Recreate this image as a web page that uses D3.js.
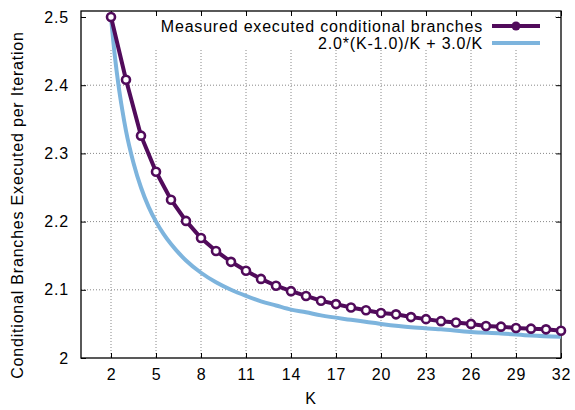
<!DOCTYPE html>
<html>
<head>
  <meta charset="utf-8">
  <script src="https://cdn.jsdelivr.net/npm/d3@7"></script>
  <style>
    body { margin: 0; background: #fff; }
    svg text { font-family: "Liberation Sans", Arial, sans-serif; fill: #000; letter-spacing: 0.8px; }
  </style>
</head>
<body>
  <div id="chart"></div>
  <script>
    // measured points, K = 2..32
    var measuredK = [2, 3, 4, 5, 6, 7, 8, 9, 10, 11, 12, 13, 14, 15, 16, 17,
      18, 19, 20, 21, 22, 23, 24, 25, 26, 27, 28, 29, 30, 31, 32]
    var measuredY = [2.500, 2.408, 2.326, 2.273, 2.232, 2.201, 2.176, 2.157,
      2.141, 2.128, 2.116, 2.106, 2.098, 2.091, 2.084, 2.079, 2.074, 2.070,
      2.066, 2.064, 2.060, 2.057, 2.054, 2.052, 2.050, 2.047, 2.046, 2.044,
      2.043, 2.042, 2.040]

    // model curve samples
    var modelK = [2, 2.25, 2.5, 2.75, 3, 3.5, 4, 4.5, 5, 5.5, 6, 7, 8, 9, 10,
      11, 12, 13, 14, 15, 16, 18, 20, 22, 24, 26, 28, 30, 32]
    var modelY = [2.5, 2.444, 2.4, 2.364, 2.333, 2.286, 2.25, 2.222, 2.2, 2.182,
      2.167, 2.143, 2.125, 2.111, 2.1, 2.091, 2.083, 2.077, 2.071, 2.067,
      2.0625, 2.056, 2.05, 2.045, 2.042, 2.038, 2.036, 2.033, 2.031]

    var xTicks = [2, 5, 8, 11, 14, 17, 20, 23, 26, 29, 32]
    var yTicks = [2, 2.1, 2.2, 2.3, 2.4, 2.5]
    var seriesNames = ['Measured executed conditional branches', '2.0*(K-1.0)/K + 3.0/K']

    var purple = '#510b5b'
    var blue = '#7db4dd'

    var W = 575, H = 410
    var pL = 81, pR = 561, pT = 11, pB = 358
    var fs = 16

    var svg = d3.select('#chart').append('svg')
      .attr('width', W).attr('height', H)

    var x = d3.scaleLinear().domain([0, 32]).range([pL, pR])
    var y = d3.scaleLinear().domain([2, 2.5088]).range([pB, pT])

    // grid
    var grid = svg.append('g')
    grid.selectAll('.gx').data(xTicks.filter(d => d < 32)).enter().append('line')
      .attr('x1', d => x(d)).attr('x2', d => x(d))
      .attr('y1', pT).attr('y2', pB)
      .attr('stroke', '#888').attr('stroke-width', 1).attr('stroke-dasharray', '1,2')
    grid.selectAll('.gy').data(yTicks.filter(d => d > 2)).enter().append('line')
      .attr('x1', pL).attr('x2', pR)
      .attr('y1', d => y(d)).attr('y2', d => y(d))
      .attr('stroke', '#888').attr('stroke-width', 1).attr('stroke-dasharray', '1,2')

    // opaque key box hides the grid behind it
    svg.append('rect')
      .attr('x', pL + 1).attr('y', pT + 1)
      .attr('width', 553 - pL - 1).attr('height', 50 - pT - 1)
      .attr('fill', '#fff')

    // axes with inward ticks on all four sides
    var tk = 5
    svg.append('g').attr('transform', 'translate(0,' + pB + ')')
      .call(d3.axisBottom(x).tickValues(xTicks).tickSizeInner(-tk).tickSizeOuter(0).tickPadding(11))
    svg.append('g').attr('transform', 'translate(0,' + pT + ')')
      .call(d3.axisTop(x).tickValues(xTicks).tickSizeInner(-tk).tickSizeOuter(0).tickFormat(''))
    svg.append('g').attr('transform', 'translate(' + pL + ',0)')
      .call(d3.axisLeft(y).tickValues(yTicks).tickSizeInner(-tk).tickSizeOuter(0).tickPadding(12).tickFormat(d3.format('')))
    svg.append('g').attr('transform', 'translate(' + pR + ',0)')
      .call(d3.axisRight(y).tickValues(yTicks).tickSizeInner(-tk).tickSizeOuter(0).tickFormat(''))
    svg.selectAll('.domain').remove()
    svg.selectAll('.tick line').attr('stroke', '#000')
    svg.selectAll('.tick text').attr('font-size', fs).attr('font-family', '"Liberation Sans", Arial, sans-serif')

    svg.append('rect')
      .attr('x', pL).attr('y', pT)
      .attr('width', pR - pL).attr('height', pB - pT)
      .attr('fill', 'none').attr('stroke', '#000').attr('stroke-width', 1.3)

    // series
    var modelData = modelK.map((k, i) => [k, modelY[i]])
    var measData = measuredK.map((k, i) => [k, measuredY[i]])

    svg.append('path').datum(modelData)
      .attr('d', d3.line().x(d => x(d[0])).y(d => y(d[1])).curve(d3.curveMonotoneX))
      .attr('fill', 'none').attr('stroke', blue).attr('stroke-width', 4)

    svg.append('path').datum(measData)
      .attr('d', d3.line().x(d => x(d[0])).y(d => y(d[1])))
      .attr('fill', 'none').attr('stroke', purple).attr('stroke-width', 4)

    svg.selectAll('.pt').data(measData).enter().append('circle')
      .attr('cx', d => x(d[0])).attr('cy', d => y(d[1])).attr('r', 4)
      .attr('fill', '#fff').attr('stroke', purple).attr('stroke-width', 2.6)

    // legend
    var key = svg.append('g')
    key.append('text').attr('x', 483).attr('y', 26).attr('dy', '0.35em')
      .attr('text-anchor', 'end').attr('font-size', fs).text(seriesNames[0])
    key.append('line').attr('x1', 492).attr('x2', 540).attr('y1', 26).attr('y2', 26)
      .attr('stroke', purple).attr('stroke-width', 4)
    key.append('circle').attr('cx', 516).attr('cy', 26).attr('r', 4.5)
      .attr('fill', purple)
    key.append('text').attr('x', 483).attr('y', 43).attr('dy', '0.35em')
      .attr('text-anchor', 'end').attr('font-size', fs).text(seriesNames[1])
    key.append('line').attr('x1', 492).attr('x2', 540).attr('y1', 43).attr('y2', 43)
      .attr('stroke', blue).attr('stroke-width', 4)

    // axis titles
    svg.append('text').attr('x', 311).attr('y', 404)
      .attr('text-anchor', 'middle').attr('font-size', fs).text('K')
    svg.append('text')
      .attr('transform', 'translate(23,205) rotate(-90)')
      .attr('text-anchor', 'middle').attr('font-size', fs)
      .text('Conditional Branches Executed per Iteration')
  </script>
</body>
</html>
